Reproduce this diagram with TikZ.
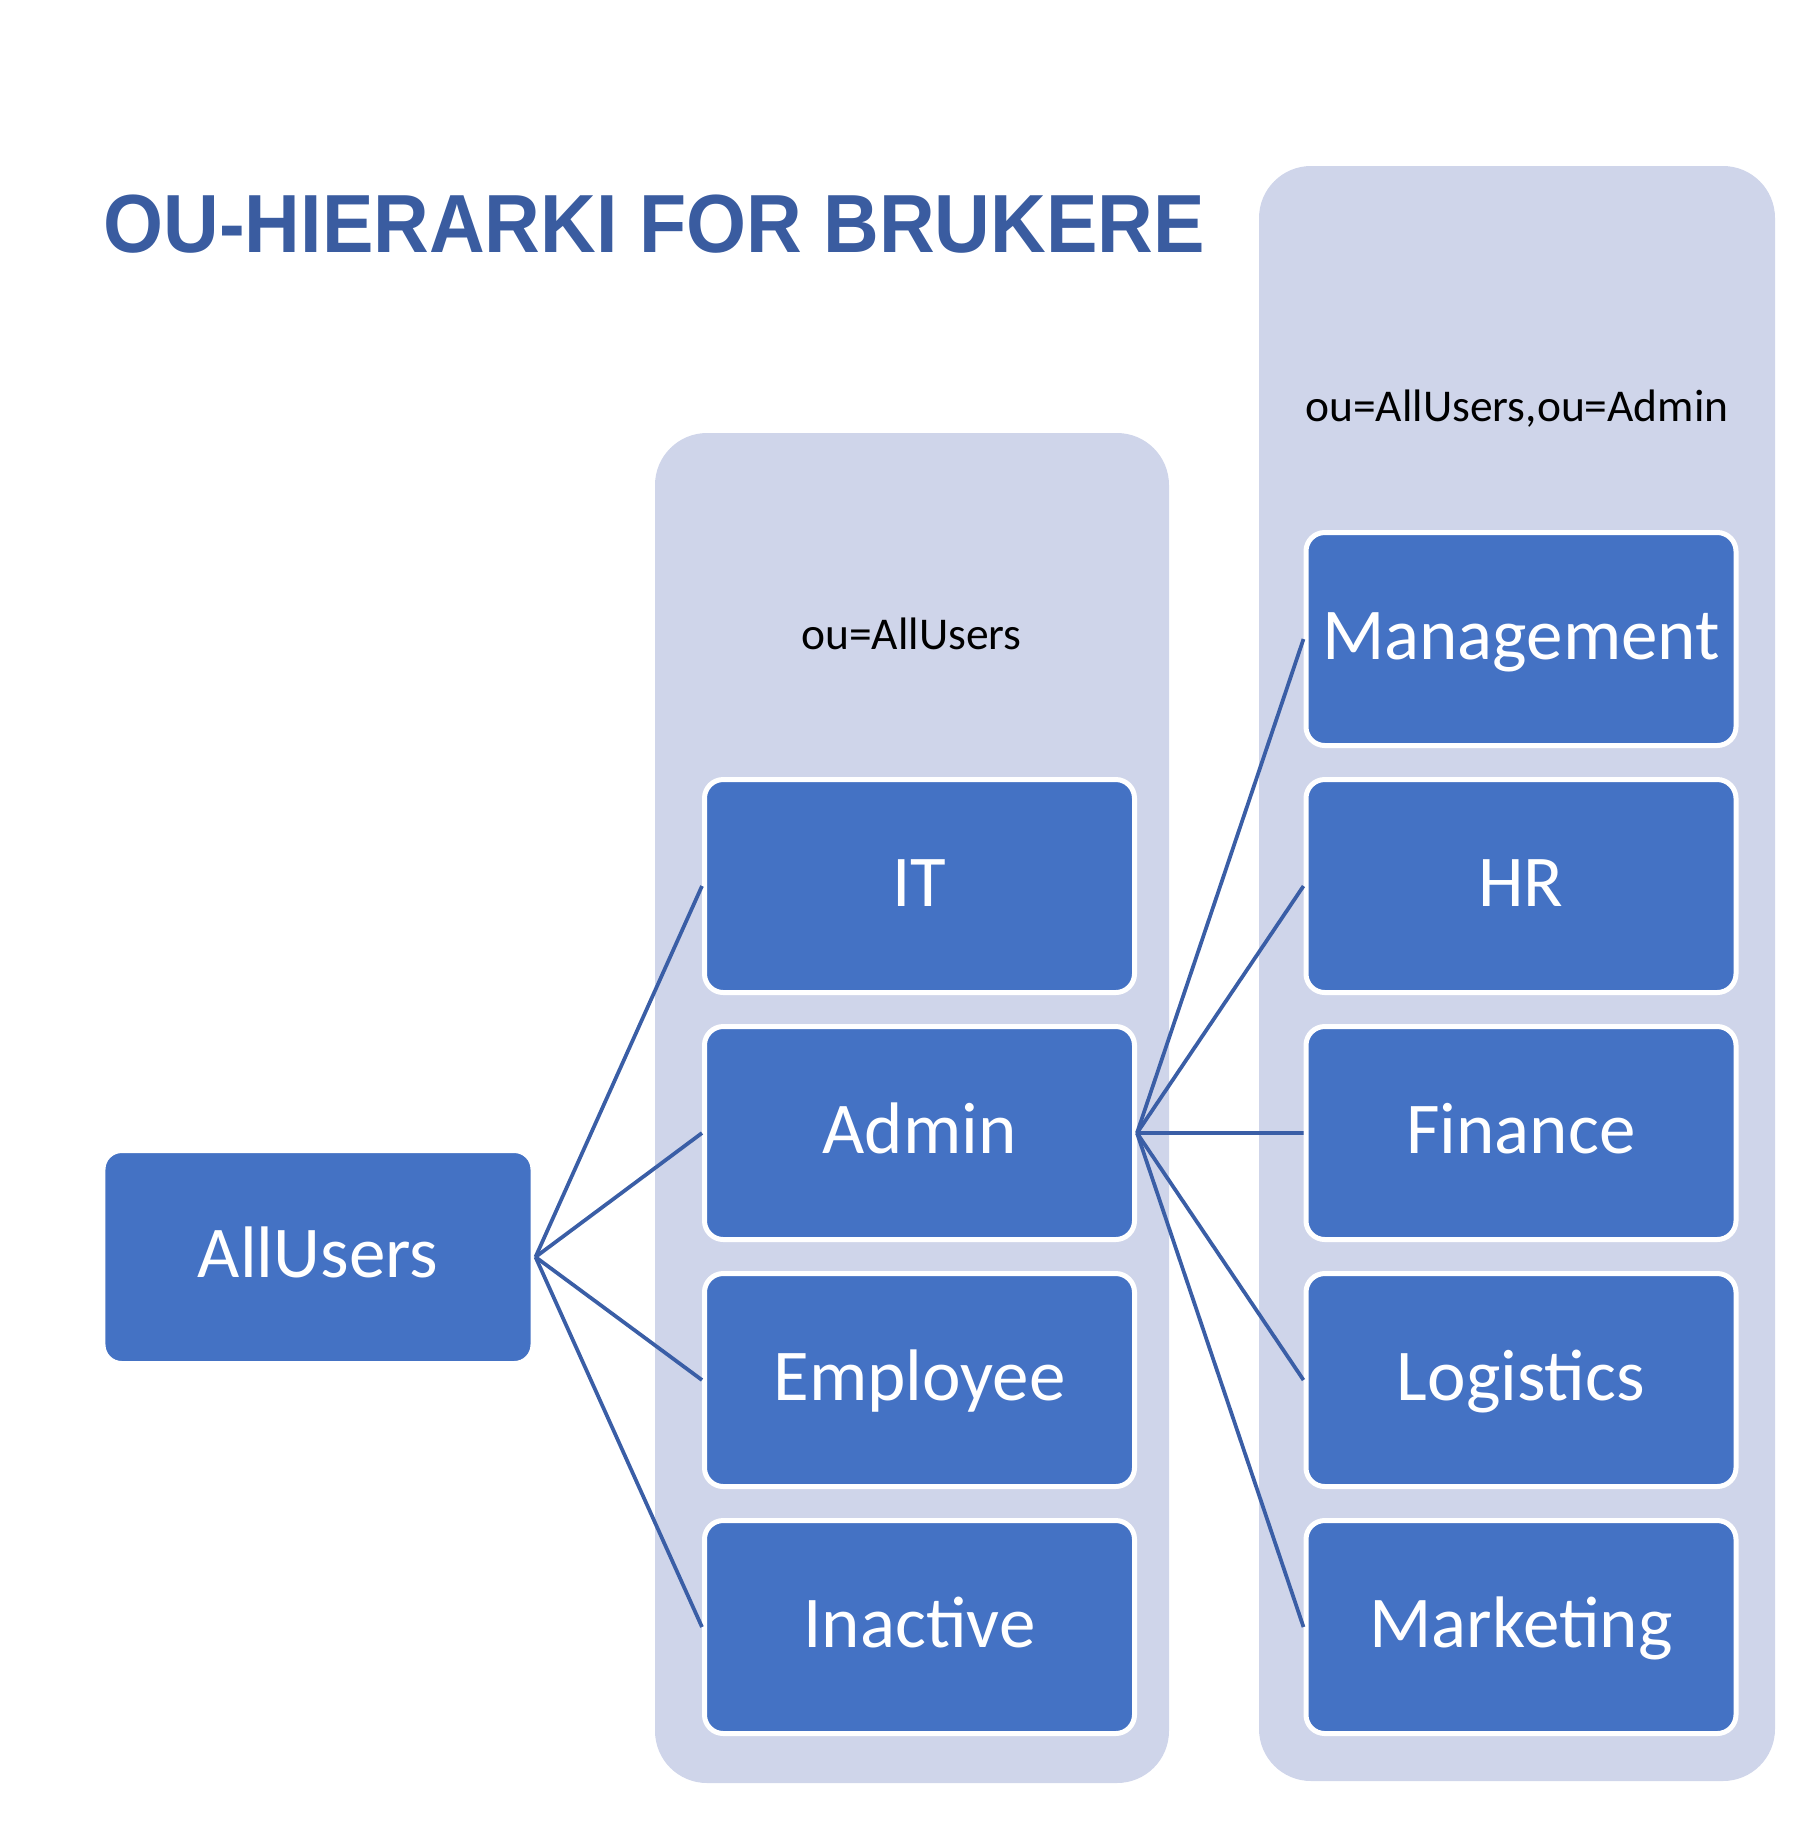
\documentclass[tikz,border=0pt]{standalone}
\usepackage{fontspec}
\setmainfont{Carlito}
\newfontfamily\titlefont[FakeStretch=0.935]{Liberation Sans}
\usetikzlibrary{positioning}
\definecolor{unitblue}{HTML}{4472C4}
\definecolor{panelblue}{HTML}{CFD5EA}
\definecolor{lineblue}{HTML}{3A5EA6}
\definecolor{titleblue}{HTML}{3A5CA0}
\begin{document}
\begin{tikzpicture}[x=0.4pt, y=-0.4pt,
    unit/.style={rectangle, rounded corners=7.5pt, fill=unitblue, draw=white,
      line width=2pt, minimum width=172pt, minimum height=85.2pt, inner sep=0pt,
      text=white, text height=22pt, text depth=6pt,
      font=\fontsize{29.2}{34}\selectfont},
    panel/.style={fill=panelblue, rounded corners=20.8pt},
    dn/.style={anchor=base, font=\fontsize{18.2}{22}\selectfont},
    link/.style={draw=lineblue, line width=1.5pt},
    node distance=11.6pt]

  \useasboundingbox (0,0) rectangle (1801,1828);

  \fill[panel] (655,433) rectangle (1169,1783);
  \fill[panel] (1259,166) rectangle (1775,1781);

  \node[anchor=base west, inner sep=0pt, text=titleblue,
    font=\titlefont\bfseries\fontsize{33}{38}\selectfont] (title) at (103,252)
    {OU-HIERARKI FOR BRUKERE};

  \node[dn] (dnleft) at (911.5,649) {ou=AllUsers};
  \node[dn] (dnright) at (1517,421) {ou=AllUsers,ou=Admin};

  \node[unit] (it) at (919.5,886) {IT};
  \node[unit,below=of it] (admin) {Admin};
  \node[unit,below=of admin] (employee) {Employee};
  \node[unit,below=of employee] (inactive) {Inactive};

  \node[unit] (management) at (1521,639) {Management};
  \node[unit,below=of management] (hr) {HR};
  \node[unit,below=of hr] (finance) {Finance};
  \node[unit,below=of finance] (logistics) {Logistics};
  \node[unit,below=of logistics] (marketing) {Marketing};

  \node[unit] (allusers) at (318,1257) {AllUsers};

  \foreach \n in {it,admin,employee,inactive}
    \draw[link] (allusers.east) -- (\n.west);
  \foreach \n in {management,hr,finance,logistics,marketing}
    \draw[link] (admin.east) -- (\n.west);
\end{tikzpicture}
\end{document}
